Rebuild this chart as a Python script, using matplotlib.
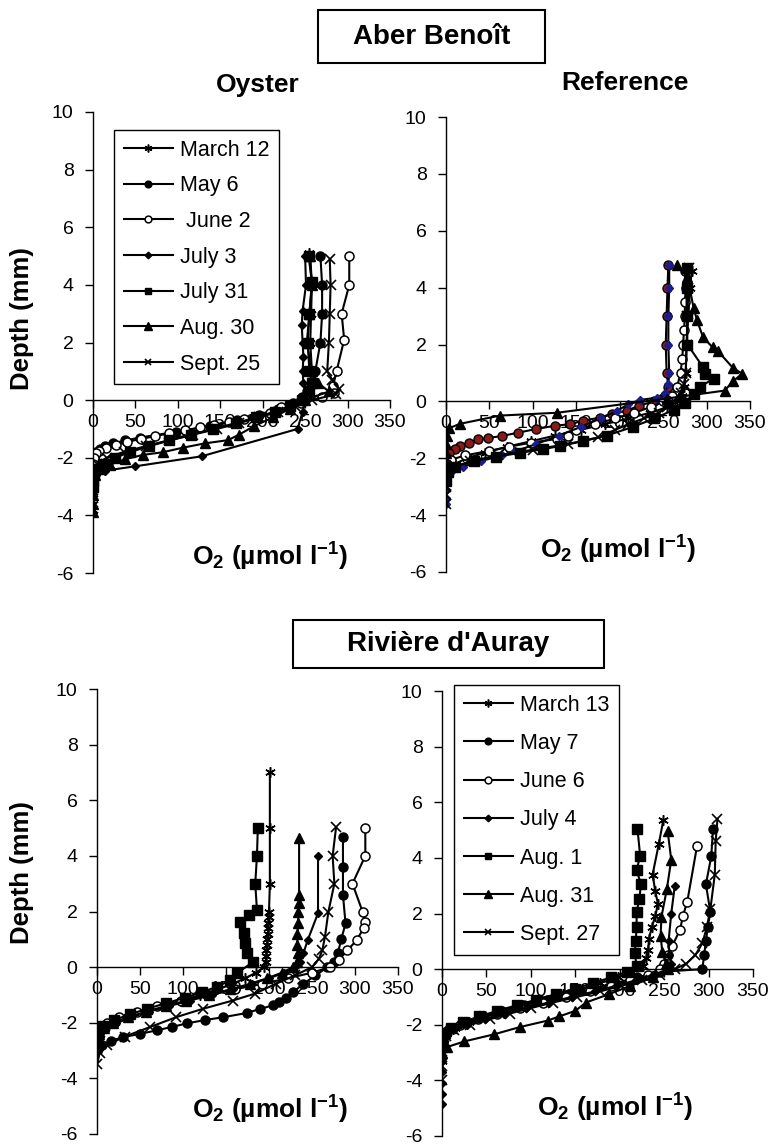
import matplotlib
matplotlib.use("Agg")
import matplotlib.pyplot as plt
from matplotlib.patches import Rectangle

plt.rcParams["font.family"] = ["Liberation Sans", "DejaVu Sans"]
plt.rcParams["axes.unicode_minus"] = False
plt.rcParams["mathtext.default"] = "regular"

# ---- data (O2 in umol/l, depth in mm) ----
# Aber Benoit - Oyster
ab_oy_labels = ["March 12", "May 6", " June 2", "July 3", "July 31", "Aug. 30", "Sept. 25"]
ab_oy_mar12_z = [5.1, 4.0, 3.0, 2.0, 1.0, 0.6, 0.3, 0.0, -0.2, -0.4, -0.6, -0.8, -1.0, -1.2, -1.4, -1.6, -1.8, -2.0, -2.2, -2.4, -2.6, -2.8, -3.0, -3.2, -3.4, -3.6, -3.8]
ab_oy_mar12_o2 = [255, 258, 257, 256, 258, 262, 255, 245, 232, 212, 190, 165, 140, 113, 88, 63, 42, 24, 11, 4, 1, 0, 0, 0, 0, 0, 0]
ab_oy_may6_z = [5.0, 4.0, 3.0, 2.0, 1.0, 0.6, 0.3, 0.1, -0.1, -0.3, -0.5, -0.7, -0.9, -1.1, -1.3, -1.4, -1.5, -1.6, -1.7, -1.8, -1.9, -2.0, -2.2, -2.4]
ab_oy_may6_o2 = [268, 270, 270, 268, 262, 258, 252, 246, 236, 218, 196, 170, 138, 98, 55, 38, 24, 14, 8, 4, 2, 1, 0, 0]
ab_oy_jun2_z = [5.0, 4.0, 3.0, 2.1, 1.0, 0.5, 0.25, 0.1, -0.1, -0.25, -0.43, -0.56, -0.65, -0.75, -0.85, -0.95, -1.05, -1.15, -1.25, -1.35, -1.45, -1.55, -1.65, -1.75, -1.85, -2.0, -2.2]
ab_oy_jun2_o2 = [302, 302, 293, 296, 287, 283, 284, 270, 245, 222, 208, 194, 178, 160, 143, 126, 108, 90, 73, 56, 40, 27, 15, 7, 3, 1, 0]
ab_oy_jul3_z = [5.0, 4.0, 3.1, 2.6, 2.0, 1.5, 1.0, 0.6, 0.3, 0.0, -0.4, -1.0, -1.95, -2.3, -2.45, -2.6, -2.8, -3.0, -3.2]
ab_oy_jul3_o2 = [250, 251, 247, 246, 247, 248, 247, 248, 252, 250, 247, 241, 128, 49, 14, 3, 0, 0, 0]
ab_oy_jul31_z = [5.0, 4.1, 3.0, 2.0, 1.0, 0.6, 0.3, 0.0, -0.2, -0.4, -0.6, -0.8, -1.0, -1.2, -1.4, -1.6, -1.8, -2.0, -2.2, -2.4, -2.6, -2.8, -3.0]
ab_oy_jul31_o2 = [254, 258, 255, 253, 255, 258, 254, 246, 232, 214, 192, 168, 142, 116, 90, 66, 44, 26, 12, 4, 1, 0, 0]
ab_oy_aug30_z = [5.0, 4.0, 3.0, 2.0, 1.0, 0.6, 0.3, 0.0, -0.3, -0.6, -0.9, -1.2, -1.39, -1.5, -1.65, -1.81, -1.9, -2.05, -2.24, -2.4, -2.6, -2.8, -3.0, -3.3, -3.6, -3.9]
ab_oy_aug30_o2 = [256, 258, 255, 252, 258, 265, 278, 250, 232, 212, 190, 172, 159, 132, 106, 82, 59, 38, 20, 8, 2, 0, 0, 0, 0, 0]
ab_oy_sep25_z = [4.9, 4.0, 3.0, 2.0, 1.0, 0.7, 0.4, 0.2, 0.0, -0.2, -0.4, -0.6, -0.8, -1.0, -1.2, -1.4, -1.6, -1.8, -2.0, -2.2, -2.4, -2.6]
ab_oy_sep25_o2 = [279, 280, 279, 278, 276, 282, 290, 286, 258, 238, 218, 196, 172, 146, 118, 90, 62, 36, 16, 5, 1, 0]

# Aber Benoit - Reference
ab_ref_mar12_z = [4.6, 4.0, 3.0, 2.0, 1.0, 0.5, 0.2, 0.0, -0.2, -0.4, -0.6, -0.8, -1.0, -1.2, -1.4, -1.6, -1.8, -2.0, -2.2, -2.4, -2.6, -2.8, -3.0]
ab_ref_mar12_o2 = [283, 281, 279, 277, 276, 274, 272, 268, 255, 235, 210, 183, 155, 126, 98, 70, 45, 24, 10, 3, 1, 0, 0]
ab_ref_may6_z = [4.8, 4.0, 3.0, 2.0, 1.0, 0.5, 0.2, 0.0, -0.15, -0.33, -0.44, -0.57, -0.68, -0.8, -0.86, -0.97, -1.1, -1.22, -1.29, -1.33, -1.47, -1.57, -1.66, -1.8, -2.0, -2.2]
ab_ref_may6_o2 = [256, 255, 254, 253, 254, 256, 252, 240, 222, 208, 191, 177, 158, 143, 125, 104, 83, 64, 48, 37, 27, 16, 10, 4, 1, 0]
ab_ref_jun2_z = [4.6, 4.0, 3.5, 3.0, 2.5, 2.0, 1.5, 1.0, 0.5, 0.2, 0.0, -0.2, -0.4, -0.6, -0.8, -1.0, -1.2, -1.32, -1.45, -1.6, -1.74, -1.9, -2.05, -2.2, -2.4]
ab_ref_jun2_o2 = [275, 276, 275, 275, 274, 273, 272, 270, 266, 260, 250, 236, 216, 195, 172, 150, 140, 128, 98, 72, 50, 22, 6, 1, 0]
ab_ref_jul3_z = [4.8, 4.0, 3.0, 2.0, 1.0, 0.6, 0.3, 0.13, 0.05, -0.1, -0.33, -0.6, -0.9, -1.2, -1.5, -1.75, -1.9, -2.1, -2.3, -2.5, -2.8, -3.1, -3.4, -3.6]
ab_ref_jul3_o2 = [257, 257, 256, 256, 257, 256, 252, 243, 223, 210, 197, 178, 155, 130, 104, 80, 65, 40, 20, 6, 1, 0, 0, 0]
ab_ref_jul31_z = [4.7, 4.0, 3.0, 2.0, 1.2, 0.97, 0.8, 0.5, 0.27, -0.05, -0.3, -0.6, -0.9, -1.2, -1.4, -1.57, -1.68, -1.81, -1.95, -2.1, -2.3, -2.5, -2.8]
ab_ref_jul31_o2 = [277, 277, 277, 278, 296, 298, 308, 292, 285, 275, 262, 240, 215, 185, 158, 131, 112, 85, 58, 32, 10, 2, 0]
ab_ref_aug30_z = [4.8, 4.36, 3.3, 2.85, 2.25, 1.9, 1.77, 1.19, 0.97, 0.7, 0.38, 0.1, -0.4, -0.5, -0.79, -0.95, -1.2, -1.5, -1.8, -2.1, -2.4]
ab_ref_aug30_o2 = [266, 278, 285, 289, 296, 307, 313, 330, 341, 330, 321, 254, 128, 62, 16, 3, 1, 0, 0, 0, 0]
ab_ref_sep25_z = [4.7, 4.0, 3.0, 2.0, 1.0, 0.6, 0.3, 0.0, -0.2, -0.4, -0.6, -0.8, -1.0, -1.27, -1.5, -1.7, -1.9, -2.1, -2.3, -2.5, -2.7, -3.0, -3.3, -3.6]
ab_ref_sep25_o2 = [280, 279, 278, 277, 276, 274, 270, 262, 255, 245, 228, 210, 195, 175, 140, 100, 60, 28, 10, 2, 0, 0, 0, 0]

# Riviere d'Auray - Oyster
ra_labels = ["March 13", "May 7", "June 6", "July 4", "Aug. 1", "Aug. 31", "Sept. 27"]
ra_oy_mar13_z = [7.0, 5.0, 3.0, 2.0, 1.8, 1.6, 1.4, 1.2, 1.0, 0.8, 0.6, 0.4, 0.2, 0.0, -0.2, -0.4, -0.6, -0.8, -1.0, -1.2, -1.4, -1.6, -1.8, -2.0, -2.2, -2.4, -2.6, -2.8, -3.0]
ra_oy_mar13_o2 = [201, 201, 201, 200, 200, 199, 199, 199, 198, 198, 197, 197, 196, 194, 185, 172, 158, 140, 120, 98, 76, 55, 36, 20, 9, 3, 1, 0, 0]
ra_oy_may7_z = [4.67, 3.6, 2.6, 1.57, 1.0, 0.5, 0.2, 0.0, -0.3, -0.6, -0.9, -1.1, -1.25, -1.37, -1.5, -1.65, -1.8, -1.9, -2.02, -2.15, -2.27, -2.4, -2.52, -2.65, -2.8, -2.95]
ra_oy_may7_o2 = [286, 286, 286, 289, 284, 280, 275, 268, 254, 240, 228, 220, 212, 205, 190, 174, 147, 126, 105, 87, 70, 50, 30, 16, 6, 1]
ra_oy_jun6_z = [5.0, 4.0, 3.0, 1.98, 1.62, 1.4, 0.97, 0.6, 0.25, 0.0, -0.2, -0.4, -0.6, -0.8, -1.0, -1.2, -1.4, -1.6, -1.8, -2.0, -2.2, -2.4, -2.6]
ra_oy_jun6_o2 = [312, 312, 297, 309, 312, 310, 302, 291, 281, 271, 250, 222, 192, 160, 128, 98, 70, 46, 26, 12, 4, 1, 0]
ra_oy_jul4_z = [4.0, 1.94, 0.97, 0.5, 0.2, 0.0, -0.2, -0.4, -0.6, -0.8, -1.0, -1.2, -1.4, -1.6, -1.8, -2.0, -2.2, -2.4, -2.6, -2.8, -3.0]
ra_oy_jul4_o2 = [257, 257, 245, 240, 236, 230, 218, 200, 180, 158, 134, 108, 84, 60, 40, 22, 10, 3, 1, 0, 0]
ra_oy_aug1_z = [5.0, 4.0, 3.0, 2.05, 1.87, 1.62, 1.22, 0.86, 0.5, 0.18, -0.22, -0.47, -0.7, -0.9, -1.1, -1.3, -1.5, -1.7, -1.9, -2.1, -2.3, -2.5]
ra_oy_aug1_o2 = [187, 186, 184, 186, 177, 166, 171, 172, 174, 181, 163, 155, 140, 122, 102, 80, 58, 38, 20, 7, 1, 0]
ra_oy_aug31_z = [4.64, 2.6, 2.3, 2.0, 1.6, 1.2, 0.8, 0.5, 0.2, 0.0, -0.2, -0.4, -0.6, -0.8, -1.0, -1.2, -1.4, -1.6, -1.8, -2.0, -2.2, -2.4, -2.6, -2.8]
ra_oy_aug31_o2 = [235, 235, 235, 234, 234, 233, 233, 234, 232, 228, 215, 198, 178, 155, 130, 104, 80, 57, 36, 19, 8, 2, 0, 0]
ra_oy_sep27_z = [5.03, 4.0, 3.0, 1.98, 1.08, 0.6, 0.3, 0.0, -0.3, -0.6, -0.95, -1.2, -1.5, -1.8, -2.15, -2.5, -2.8, -3.1, -3.5]
ra_oy_sep27_o2 = [278, 274, 276, 269, 265, 262, 258, 250, 230, 208, 184, 158, 123, 92, 62, 32, 12, 3, 0]

# Riviere d'Auray - Reference
ra_ref_mar13_z = [5.35, 4.5, 3.4, 2.8, 2.35, 1.9, 1.5, 1.1, 0.7, 0.4, 0.1, -0.1, -0.3, -0.5, -0.7, -0.9, -1.1, -1.3, -1.5, -1.7, -1.9, -2.1, -2.3, -2.5, -2.7, -3.0, -3.3]
ra_ref_mar13_o2 = [249, 244, 237, 240, 243, 240, 236, 233, 232, 230, 226, 214, 198, 178, 158, 136, 112, 90, 68, 48, 30, 15, 6, 2, 0, 0, 0]
ra_ref_may7_z = [5.03, 4.05, 3.05, 2.05, 1.5, 1.0, 0.5, 0.0, -0.1, -0.3, -0.5, -0.7, -0.9, -1.1, -1.3, -1.5, -1.7, -1.9, -2.1, -2.3, -2.5, -2.7]
ra_ref_may7_o2 = [305, 303, 297, 302, 299, 297, 295, 293, 245, 220, 195, 170, 143, 118, 92, 68, 46, 27, 12, 4, 1, 0]
ra_ref_jun6_z = [4.42, 2.42, 1.9, 1.42, 0.83, 0.5, 0.2, 0.0, -0.2, -0.4, -0.6, -0.8, -1.0, -1.2, -1.4, -1.6, -1.8, -2.0, -2.2, -2.4, -2.6]
ra_ref_jun6_o2 = [287, 276, 271, 268, 259, 254, 250, 245, 232, 212, 190, 166, 140, 114, 88, 62, 40, 20, 7, 2, 0]
ra_ref_jul4_z = [3.0, 2.0, 1.0, 0.5, 0.2, 0.0, -0.2, -0.4, -0.6, -0.8, -1.0, -1.2, -1.4, -1.6, -1.8, -2.0, -2.2, -2.4, -2.6, -2.9, -3.3, -3.7, -4.1, -4.5, -4.86]
ra_ref_jul4_o2 = [262, 258, 255, 256, 258, 255, 238, 218, 196, 172, 146, 120, 95, 70, 48, 28, 12, 4, 1, 0, 0, 0, 0, 0, 0]
ra_ref_aug1_z = [5.03, 4.08, 3.55, 3.05, 2.52, 2.05, 1.5, 1.0, 0.57, 0.1, -0.1, -0.3, -0.5, -0.7, -0.9, -1.1, -1.3, -1.5, -1.7, -1.9, -2.1, -2.3, -2.5, -2.8]
ra_ref_aug1_o2 = [220, 223, 219, 224, 222, 219, 219, 218, 217, 219, 208, 190, 170, 150, 128, 106, 84, 62, 42, 24, 10, 3, 0, 0]
ra_ref_aug31_z = [4.95, 3.93, 2.87, 1.88, 1.2, 0.6, 0.2, 0.0, -0.3, -0.6, -0.9, -1.2, -1.5, -1.7, -1.85, -2.08, -2.35, -2.6, -2.8, -3.0]
ra_ref_aug31_o2 = [254, 258, 253, 247, 246, 248, 252, 254, 238, 212, 188, 162, 150, 132, 119, 88, 58, 25, 6, 0]
ra_ref_sep27_z = [5.4, 4.6, 3.4, 2.15, 1.5, 0.93, 0.5, 0.2, 0.0, -0.2, -0.4, -0.6, -0.8, -1.0, -1.2, -1.4, -1.6, -1.8, -2.0, -2.2, -2.4, -2.7, -3.0, -3.5, -4.0]
ra_ref_sep27_o2 = [310, 308, 307, 302, 298, 293, 285, 275, 262, 245, 225, 202, 178, 152, 125, 100, 76, 54, 32, 14, 4, 0, 0, 0, 0]

x_ticks = [0, 50, 100, 150, 200, 250, 300, 350]
y_ticks = [-6, -4, -2, 0, 2, 4, 6, 8, 10]

# ---- styles ----
W, H = 779, 1146
fig = plt.figure(figsize=(W / 100, H / 100), dpi=100)

STY = [
    dict(marker=(6, 2, 0), ms=7.5, mfc="black", mec="black", mew=1.1),  # star
    dict(marker="o", ms=6.5, mfc="black", mec="black"),                  # filled circle
    dict(marker="o", ms=6.5, mfc="white", mec="black", mew=1.1),         # open circle
    dict(marker="D", ms=4.5, mfc="black", mec="black"),                  # diamond
    dict(marker="s", ms=6.5, mfc="black", mec="black"),                  # square
    dict(marker="^", ms=7, mfc="black", mec="black"),                    # triangle
    dict(marker="x", ms=6.5, mfc="black", mec="black", mew=1.2),         # x
]


def make_axes(x0, y10, x350, ym6):
    ax = fig.add_axes([x0 / W, 1 - ym6 / H, (x350 - x0) / W, (ym6 - y10) / H])
    ax.set_facecolor("none")
    ax.set_xlim(0, 350)
    ax.set_ylim(-6, 10)
    ax.set_xticks(x_ticks)
    ax.set_yticks(y_ticks)
    ax.spines["top"].set_visible(False)
    ax.spines["right"].set_visible(False)
    ax.spines["bottom"].set_position(("data", 0))
    for s in ("left", "bottom"):
        ax.spines[s].set_linewidth(1.0)
        ax.spines[s].set_color("black")
    ax.tick_params(axis="both", direction="out", length=6, width=1, labelsize=14, colors="black")
    ax.tick_params(axis="x", pad=4)
    ax.tick_params(axis="y", pad=8)
    return ax


def draw(ax, series, labels, colors=None):
    lines = []
    for i, (o2, z) in enumerate(series):
        st = dict(STY[i])
        if colors and colors.get(i):
            st["mfc"] = colors[i]
            if i == 3:
                st["mec"] = colors[i]
        ln, = ax.plot(o2, z, color="black", lw=1.5, label=labels[i], **st)
        lines.append(ln)
    return lines


ax1 = make_axes(93, 112, 390, 573)
ax2 = make_axes(446, 117, 750, 572)
ax3 = make_axes(97, 689, 398, 1134)
ax4 = make_axes(442, 691, 753, 1136)

l1 = draw(ax1, [(ab_oy_mar12_o2, ab_oy_mar12_z), (ab_oy_may6_o2, ab_oy_may6_z), (ab_oy_jun2_o2, ab_oy_jun2_z),
                (ab_oy_jul3_o2, ab_oy_jul3_z), (ab_oy_jul31_o2, ab_oy_jul31_z), (ab_oy_aug30_o2, ab_oy_aug30_z),
                (ab_oy_sep25_o2, ab_oy_sep25_z)], ab_oy_labels)
draw(ax2, [(ab_ref_mar12_o2, ab_ref_mar12_z), (ab_ref_may6_o2, ab_ref_may6_z), (ab_ref_jun2_o2, ab_ref_jun2_z),
           (ab_ref_jul3_o2, ab_ref_jul3_z), (ab_ref_jul31_o2, ab_ref_jul31_z), (ab_ref_aug30_o2, ab_ref_aug30_z),
           (ab_ref_sep25_o2, ab_ref_sep25_z)], ab_oy_labels, colors={1: "#8b1a1a", 3: "#1c1c8c"})
draw(ax3, [(ra_oy_mar13_o2, ra_oy_mar13_z), (ra_oy_may7_o2, ra_oy_may7_z), (ra_oy_jun6_o2, ra_oy_jun6_z),
           (ra_oy_jul4_o2, ra_oy_jul4_z), (ra_oy_aug1_o2, ra_oy_aug1_z), (ra_oy_aug31_o2, ra_oy_aug31_z),
           (ra_oy_sep27_o2, ra_oy_sep27_z)], ra_labels)
l4 = draw(ax4, [(ra_ref_mar13_o2, ra_ref_mar13_z), (ra_ref_may7_o2, ra_ref_may7_z), (ra_ref_jun6_o2, ra_ref_jun6_z),
                (ra_ref_jul4_o2, ra_ref_jul4_z), (ra_ref_aug1_o2, ra_ref_aug1_z), (ra_ref_aug31_o2, ra_ref_aug31_z),
                (ra_ref_sep27_o2, ra_ref_sep27_z)], ra_labels)

# legends
for lines, (lx, ly), sp in ((l1, (114, 130), 0.68), (l4, (454, 685), 0.8)):
    leg = fig.legend(handles=lines, loc="upper left", bbox_to_anchor=(lx / W, 1 - ly / H),
                     bbox_transform=fig.transFigure, fontsize=15.5, handlelength=2.3, handletextpad=0.3,
                     labelspacing=sp, borderaxespad=0, borderpad=0.45, fancybox=False, framealpha=1,
                     edgecolor="black", markerscale=0.75)
    leg.get_frame().set_linewidth(1.0)

# titles
def box_title(text, x0, y0, x1, y1):
    fig.patches.append(Rectangle((x0 / W, 1 - y1 / H), (x1 - x0) / W, (y1 - y0) / H, transform=fig.transFigure,
                                 fill=False, edgecolor="black", lw=1.5))
    fig.text((x0 + x1) / 2 / W, 1 - (y0 + y1) / 2 / H, text, ha="center", va="center",
             fontsize=20, fontweight="bold")

box_title("Aber Benoît", 318, 10, 545, 63)
box_title("Rivière d'Auray", 293, 620, 604, 668)
fig.text(258 / W, 1 - 85 / H, "Oyster", ha="center", va="center", fontsize=19, fontweight="bold")
fig.text(625 / W, 1 - 83 / H, "Reference", ha="center", va="center", fontsize=19, fontweight="bold")

xlab = r"O$_2$ (µmol l$^{-1}$)"
for x, y in ((270, 557), (618, 550), (270, 1110), (615, 1108)):
    fig.text(x / W, 1 - y / H, xlab, ha="center", va="center", fontsize=19, fontweight="bold")
for y in (319, 873):
    fig.text(22 / W, 1 - y / H, "Depth (mm)", ha="center", va="center", rotation=90,
             fontsize=18.5, fontweight="bold")

fig.savefig("out.png", dpi=100)
